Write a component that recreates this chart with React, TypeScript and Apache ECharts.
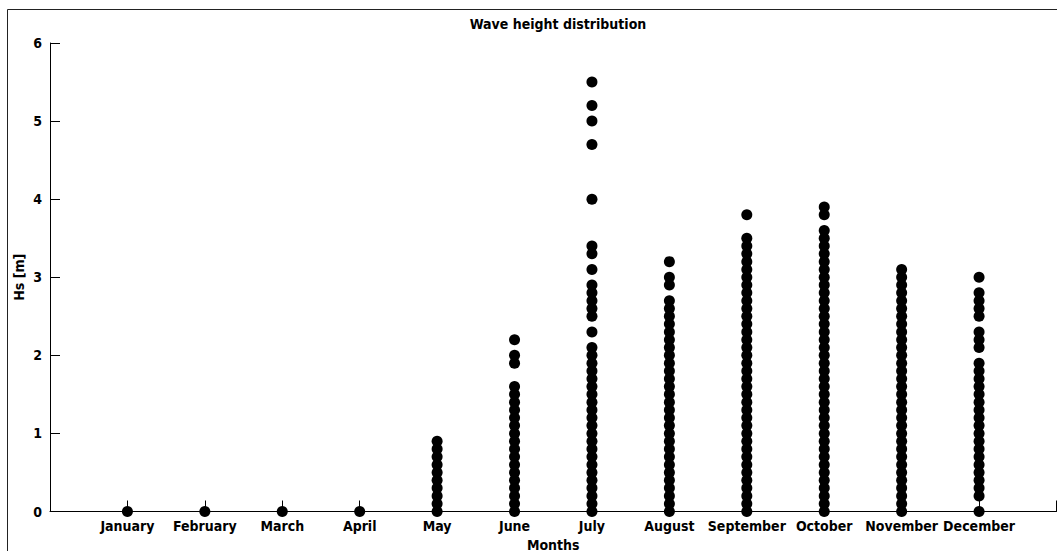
import React, { useEffect, useRef } from "react";
import * as echarts from "echarts";

const months = ["January", "February", "March", "April", "May", "June", "July", "August", "September", "October", "November", "December"];
const yTicks = [0, 1, 2, 3, 4, 5, 6];

const janHs = [0];
const febHs = [0];
const marHs = [0];
const aprHs = [0];
const mayHs = [0, 0.1, 0.2, 0.3, 0.4, 0.5, 0.6, 0.7, 0.8, 0.9];
const junHs = [0, 0.1, 0.2, 0.3, 0.4, 0.5, 0.6, 0.7, 0.8, 0.9, 1.0, 1.1, 1.2, 1.3, 1.4, 1.5, 1.6, 1.9, 2.0, 2.2];
const julHs = [0, 0.1, 0.2, 0.3, 0.4, 0.5, 0.6, 0.7, 0.8, 0.9, 1.0, 1.1, 1.2, 1.3, 1.4, 1.5, 1.6, 1.7, 1.8, 1.9, 2.0, 2.1, 2.3, 2.5, 2.6, 2.7, 2.8, 2.9, 3.1, 3.3, 3.4, 4.0, 4.7, 5.0, 5.2, 5.5];
const augHs = [0, 0.1, 0.2, 0.3, 0.4, 0.5, 0.6, 0.7, 0.8, 0.9, 1.0, 1.1, 1.2, 1.3, 1.4, 1.5, 1.6, 1.7, 1.8, 1.9, 2.0, 2.1, 2.2, 2.3, 2.4, 2.5, 2.6, 2.7, 2.9, 3.0, 3.2];
const sepHs = [0, 0.1, 0.2, 0.3, 0.4, 0.5, 0.6, 0.7, 0.8, 0.9, 1.0, 1.1, 1.2, 1.3, 1.4, 1.5, 1.6, 1.7, 1.8, 1.9, 2.0, 2.1, 2.2, 2.3, 2.4, 2.5, 2.6, 2.7, 2.8, 2.9, 3.0, 3.1, 3.2, 3.3, 3.4, 3.5, 3.8];
const octHs = [0, 0.1, 0.2, 0.3, 0.4, 0.5, 0.6, 0.7, 0.8, 0.9, 1.0, 1.1, 1.2, 1.3, 1.4, 1.5, 1.6, 1.7, 1.8, 1.9, 2.0, 2.1, 2.2, 2.3, 2.4, 2.5, 2.6, 2.7, 2.8, 2.9, 3.0, 3.1, 3.2, 3.3, 3.4, 3.5, 3.6, 3.8, 3.9];
const novHs = [0, 0.1, 0.2, 0.3, 0.4, 0.5, 0.6, 0.7, 0.8, 0.9, 1.0, 1.1, 1.2, 1.3, 1.4, 1.5, 1.6, 1.7, 1.8, 1.9, 2.0, 2.1, 2.2, 2.3, 2.4, 2.5, 2.6, 2.7, 2.8, 2.9, 3.0, 3.1];
const decHs = [0, 0.2, 0.3, 0.4, 0.5, 0.6, 0.7, 0.8, 0.9, 1.0, 1.1, 1.2, 1.3, 1.4, 1.5, 1.6, 1.7, 1.8, 1.9, 2.1, 2.2, 2.3, 2.5, 2.6, 2.7, 2.8, 3.0];

const monthlyHs = [janHs, febHs, marHs, aprHs, mayHs, junHs, julHs, augHs, sepHs, octHs, novHs, decHs];

const FONT = "'Liberation Sans Narrow', 'Arial Narrow', 'DejaVu Sans Condensed', sans-serif";

export default function App() {
  const ref = useRef<HTMLDivElement>(null);
  useEffect(() => {
    if (!ref.current) return;
    const chart = echarts.init(ref.current, null, { renderer: "svg" });
    const data: number[][] = [];
    monthlyHs.forEach((arr, i) => arr.forEach((h) => data.push([i + 1, h])));
    chart.setOption({
      animation: false,
      backgroundColor: "#ffffff",
      textStyle: { fontFamily: FONT },
      title: {
        text: "Wave height distribution",
        left: 553,
        textAlign: "center",
        top: 12,
        textStyle: { fontFamily: FONT, fontWeight: "bold", fontSize: 14, color: "#000" },
      },
      graphic: [
        {
          type: "rect",
          shape: { x: 7.5, y: 9.5, width: 1070, height: 580 },
          style: { fill: "none", stroke: "#222", lineWidth: 1 },
          silent: true,
          z: -1,
        },
      ],
      grid: { left: 50, right: 0.5, top: 43, bottom: 39.5, containLabel: false, outerBoundsMode: "none" },
      xAxis: {
        type: "value",
        min: 0,
        max: 13,
        interval: 1,
        name: "Months",
        nameLocation: "middle",
        nameGap: 26,
        nameTextStyle: { fontFamily: FONT, fontWeight: "bold", fontSize: 14, color: "#000" },
        axisLine: { show: true, lineStyle: { color: "#000", width: 1 } },
        axisTick: { show: true, inside: true, length: 11, lineStyle: { color: "#000" } },
        splitLine: { show: false },
        axisLabel: {
          margin: 7,
          fontFamily: FONT,
          fontWeight: "bold",
          fontSize: 14,
          color: "#000",
          formatter: (v: number) => (v >= 1 && v <= 12 ? months[v - 1] : ""),
        },
      },
      yAxis: {
        type: "value",
        min: yTicks[0],
        max: yTicks[yTicks.length - 1],
        interval: 1,
        name: "Hs [m]",
        nameLocation: "middle",
        nameGap: 24,
        nameMoveOverlap: false,
        nameRotate: 90,
        nameTextStyle: { fontFamily: FONT, fontWeight: "bold", fontSize: 14, color: "#000" },
        axisLine: { show: true, lineStyle: { color: "#000", width: 1 } },
        axisTick: { show: true, inside: true, length: 10, lineStyle: { color: "#000" } },
        splitLine: { show: false },
        axisLabel: {
          margin: 8,
          fontFamily: FONT,
          fontWeight: "bold",
          fontSize: 14,
          color: "#000",
        },
      },
      series: [
        {
          type: "scatter",
          data,
          symbol: "circle",
          symbolSize: 11,
          itemStyle: { color: "#000", opacity: 1 },
          clip: false,
        },
      ],
    });
    return () => chart.dispose();
  }, []);
  return (
    <div
      ref={ref}
      style={{ position: "absolute", left: 0, top: 0, width: 1057, height: 551 }}
    />
  );
}
